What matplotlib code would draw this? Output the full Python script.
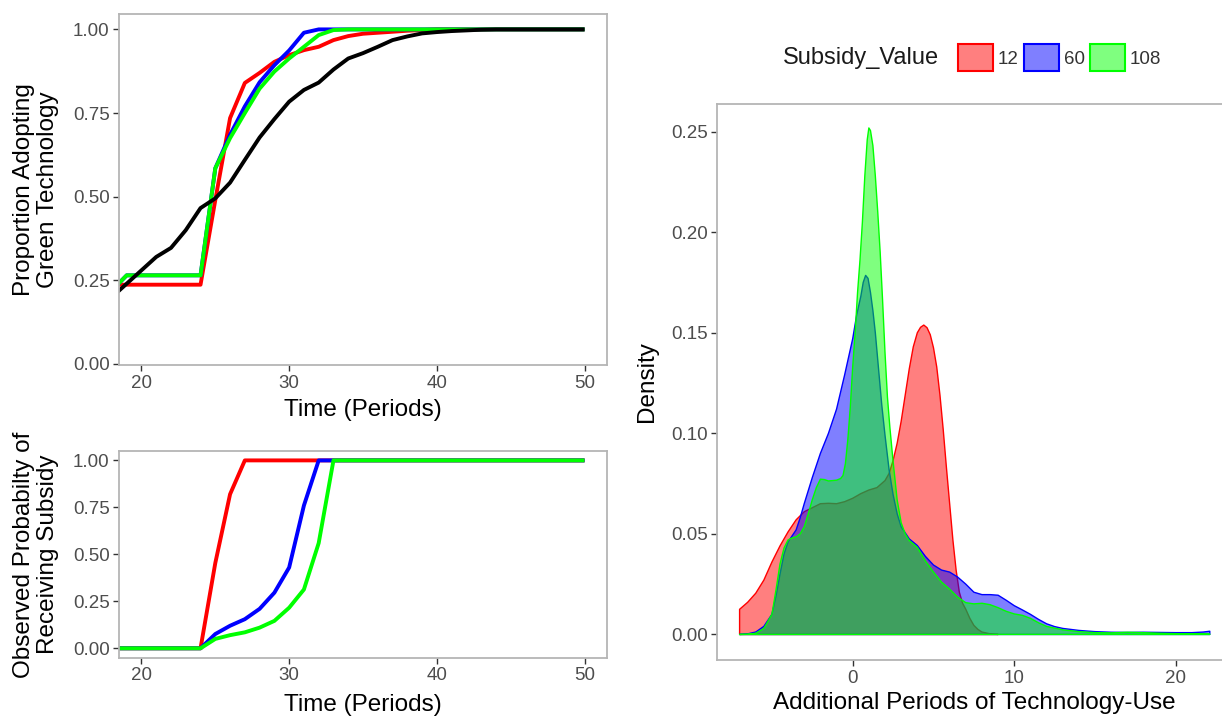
import matplotlib
matplotlib.use("Agg")
import matplotlib.pyplot as plt
import numpy as np
from matplotlib.patches import Patch
from matplotlib.ticker import FormatStrFormatter

plt.rcParams['font.family'] = ['Liberation Sans', 'DejaVu Sans']

# ---------------------------------------------------------------- data
# adoption over time (top left)
periods = [18, 19, 20, 21, 22, 23, 24, 25, 26, 27, 28, 29, 30, 31, 32, 33, 34,
           35, 36, 37, 38, 39, 40, 41, 42, 43, 44, 45, 46, 47, 48, 49, 50]
adopt_12 = [0.237, 0.237, 0.237, 0.237, 0.237, 0.237, 0.237, 0.49, 0.735, 0.84,
            0.87, 0.903, 0.923, 0.938, 0.948, 0.968, 0.98, 0.987, 0.99, 0.993,
            0.996, 0.998, 1.0, 1.0, 1.0, 1.0, 1.0, 1.0, 1.0, 1.0, 1.0, 1.0, 1.0]
adopt_60 = [0.22, 0.265, 0.265, 0.265, 0.265, 0.265, 0.265, 0.585, 0.685, 0.77,
            0.842, 0.893, 0.937, 0.99, 1.0, 1.0, 1.0, 1.0, 1.0, 1.0, 1.0, 1.0,
            1.0, 1.0, 1.0, 1.0, 1.0, 1.0, 1.0, 1.0, 1.0, 1.0, 1.0]
adopt_108 = [0.22, 0.265, 0.265, 0.265, 0.265, 0.265, 0.265, 0.585, 0.675, 0.75,
             0.823, 0.874, 0.913, 0.948, 0.983, 0.998, 1.0, 1.0, 1.0, 1.0, 1.0,
             1.0, 1.0, 1.0, 1.0, 1.0, 1.0, 1.0, 1.0, 1.0, 1.0, 1.0, 1.0]
adopt_none = [0.20, 0.24, 0.28, 0.32, 0.347, 0.40, 0.466, 0.495, 0.542, 0.61,
              0.677, 0.732, 0.784, 0.819, 0.841, 0.88, 0.913, 0.929, 0.948,
              0.968, 0.979, 0.988, 0.992, 0.995, 0.997, 0.999, 1.0, 1.0, 1.0,
              1.0, 1.0, 1.0, 1.0]

# probability of receiving subsidy (bottom left)
recv_12 = [0, 0, 0, 0, 0, 0, 0, 0.454, 0.82, 1.0, 1.0, 1.0, 1.0, 1.0, 1.0, 1.0,
           1.0, 1.0, 1.0, 1.0, 1.0, 1.0, 1.0, 1.0, 1.0, 1.0, 1.0, 1.0, 1.0, 1.0,
           1.0, 1.0, 1.0]
recv_60 = [0, 0, 0, 0, 0, 0, 0, 0.076, 0.12, 0.155, 0.21, 0.296, 0.43, 0.76, 1.0,
           1.0, 1.0, 1.0, 1.0, 1.0, 1.0, 1.0, 1.0, 1.0, 1.0, 1.0, 1.0, 1.0, 1.0,
           1.0, 1.0, 1.0, 1.0]
recv_108 = [0, 0, 0, 0, 0, 0, 0, 0.05, 0.07, 0.085, 0.11, 0.146, 0.216, 0.313,
            0.56, 1.0, 1.0, 1.0, 1.0, 1.0, 1.0, 1.0, 1.0, 1.0, 1.0, 1.0, 1.0, 1.0,
            1.0, 1.0, 1.0, 1.0, 1.0]

# densities of additional periods of use (right)
dens_x_12 = [-7.0, -6.5, -6.0, -5.5, -5.0, -4.5, -4.0, -3.5, -3.0, -2.5, -2.0,
             -1.5, -1.0, -0.5, 0.0, 0.5, 1.0, 1.5, 2.0, 2.25, 2.5, 2.75, 3.0,
             3.25, 3.5, 3.75, 4.0, 4.2, 4.4, 4.6, 4.8, 5.0, 5.2, 5.4, 5.6, 5.8,
             6.0, 6.2, 6.4, 6.6, 6.8, 7.0, 7.25, 7.5, 7.75, 8.0, 8.5, 9.0]
dens_y_12 = [0.0125, 0.016, 0.0205, 0.027, 0.036, 0.044, 0.051, 0.057, 0.061,
             0.063, 0.065, 0.0652, 0.065, 0.066, 0.0677, 0.070, 0.0718, 0.073,
             0.0765, 0.080, 0.0865, 0.095, 0.106, 0.119, 0.132, 0.143, 0.150,
             0.1527, 0.1538, 0.1525, 0.149, 0.1425, 0.133, 0.119, 0.102, 0.083,
             0.065, 0.047, 0.032, 0.021, 0.0155, 0.0125, 0.008, 0.0045, 0.0025,
             0.0012, 0.0003, 0.0]

dens_x_60 = [-7.0, -6.5, -6.0, -5.5, -5.0, -4.75, -4.5, -4.25, -4.0, -3.75, -3.5,
             -3.25, -3.0, -2.5, -2.0, -1.5, -1.0, -0.5, -0.25, 0.0, 0.25, 0.5,
             0.65, 0.8, 0.95, 1.1, 1.25, 1.4, 1.6, 1.8, 2.0, 2.25, 2.5, 2.75,
             3.0, 3.5, 4.0, 4.5, 5.0, 5.5, 6.0, 6.5, 7.0, 7.5, 8.0, 8.5, 9.0,
             9.5, 10.0, 10.5, 11.0, 11.5, 12.0, 12.5, 13.0, 14.0, 15.0, 16.0,
             17.0, 18.0, 19.0, 20.0, 21.0, 21.7, 22.1]
dens_y_60 = [0.0, 0.0003, 0.0012, 0.004, 0.010, 0.019, 0.030, 0.040, 0.046,
             0.049, 0.052, 0.058, 0.065, 0.078, 0.090, 0.100, 0.112, 0.129,
             0.138, 0.147, 0.159, 0.168, 0.175, 0.1785, 0.177, 0.170, 0.161,
             0.150, 0.132, 0.114, 0.099, 0.082, 0.0695, 0.060, 0.0535, 0.0475,
             0.0442, 0.0388, 0.0345, 0.032, 0.031, 0.0285, 0.025, 0.021, 0.0198,
             0.0198, 0.0195, 0.017, 0.0143, 0.0122, 0.0100, 0.0075, 0.0053,
             0.0039, 0.003, 0.002, 0.0014, 0.0011, 0.001, 0.0011, 0.001, 0.0009,
             0.0009, 0.0012, 0.0016]

dens_x_108 = [-7.0, -6.5, -6.0, -5.5, -5.0, -4.75, -4.5, -4.25, -4.0, -3.75,
              -3.5, -3.25, -3.0, -2.75, -2.5, -2.25, -2.0, -1.75, -1.5, -1.0,
              -0.75, -0.6, -0.45, -0.3, -0.15, 0.0, 0.15, 0.3, 0.45, 0.6, 0.75,
              0.9, 1.0, 1.1, 1.25, 1.4, 1.55, 1.7, 1.85, 2.0, 2.15, 2.3, 2.5,
              2.75, 3.0, 3.25, 3.5, 4.0, 4.5, 5.0, 5.5, 6.0, 6.5, 7.0, 7.5, 8.0,
              8.5, 9.0, 9.5, 10.0, 10.5, 11.0, 11.5, 12.0, 13.0, 14.0, 15.0,
              16.0, 17.0, 18.0, 19.0, 20.0, 21.0, 22.1]
dens_y_108 = [0.0, 0.0001, 0.0006, 0.003, 0.010, 0.022, 0.035, 0.043, 0.047,
              0.048, 0.0485, 0.050, 0.0535, 0.060, 0.067, 0.073, 0.0772, 0.077,
              0.0763, 0.0767, 0.0775, 0.079, 0.085, 0.097, 0.113, 0.133, 0.150,
              0.170, 0.186, 0.205, 0.228, 0.246, 0.2518, 0.2505, 0.243, 0.228,
              0.210, 0.190, 0.166, 0.140, 0.118, 0.103, 0.086, 0.067, 0.0555,
              0.050, 0.0467, 0.0433, 0.0365, 0.031, 0.026, 0.0225, 0.0185,
              0.0158, 0.0152, 0.0155, 0.0148, 0.0133, 0.0115, 0.0102, 0.0095,
              0.008, 0.0058, 0.0040, 0.0023, 0.0014, 0.0009, 0.0008, 0.0011,
              0.0009, 0.0006, 0.0004, 0.0003, 0.0002]

subsidy_levels = ['12', '60', '108']
colors = ['#ff0000', '#0000ff', '#00ff00']

# ---------------------------------------------------------------- style
TICK_FS = 13.5
TITLE_FS = 17.5
SPINE_COL = '#b5b5b5'


def style_axes(ax):
    for sp in ax.spines.values():
        sp.set_color(SPINE_COL)
        sp.set_linewidth(1.3)
    ax.tick_params(length=4, width=1.0, color='#333333', pad=3,
                   labelsize=TICK_FS, labelcolor='#4d4d4d')
    ax.grid(False)


fig = plt.figure(figsize=(12.22, 7.17), dpi=100)
W, H = 1222.0, 717.0


def px_axes(left, top, right, bottom):
    return fig.add_axes([left / W, 1 - bottom / H, (right - left) / W,
                         (bottom - top) / H])


# ---------------------------------------------------------------- top left
ax1 = px_axes(119.3, 14, 606.7, 365)
for ys, c in zip([adopt_12, adopt_60, adopt_108], colors):
    ax1.plot(periods, ys, color=c, lw=2.8, solid_capstyle='butt',
             solid_joinstyle='round')
ax1.plot(periods, adopt_none, color='black', lw=2.8, solid_capstyle='butt',
         solid_joinstyle='round')
ax1.set_xlim(18.5, 51.5)
ax1.set_ylim(-0.003, 1.046)
ax1.set_xticks([20, 30, 40, 50])
ax1.set_yticks([0, 0.25, 0.5, 0.75, 1.0])
ax1.yaxis.set_major_formatter(FormatStrFormatter('%.2f'))
style_axes(ax1)
ax1.set_xlabel('Time (Periods)', fontsize=TITLE_FS, va='center')
ax1.xaxis.set_label_coords(0.5, -0.128)
ax1.set_ylabel('Proportion Adopting\nGreen Technology', fontsize=TITLE_FS,
               va='center', linespacing=1.1)
ax1.yaxis.set_label_coords(-0.171, 0.5)

# ---------------------------------------------------------------- bottom left
ax2 = px_axes(119.3, 451, 606.7, 657.7)
for ys, c in zip([recv_12, recv_60, recv_108], colors):
    ax2.plot(periods, ys, color=c, lw=2.8, solid_capstyle='butt',
             solid_joinstyle='round')
ax2.set_xlim(18.5, 51.5)
ax2.set_ylim(-0.05, 1.05)
ax2.set_xticks([20, 30, 40, 50])
ax2.set_yticks([0, 0.25, 0.5, 0.75, 1.0])
ax2.yaxis.set_major_formatter(FormatStrFormatter('%.2f'))
style_axes(ax2)
ax2.set_xlabel('Time (Periods)', fontsize=TITLE_FS, va='center')
ax2.xaxis.set_label_coords(0.5, -0.229)
ax2.set_ylabel('Observed Probabilty of\nReceiving Subsidy', fontsize=TITLE_FS,
               va='center', linespacing=1.1)
ax2.yaxis.set_label_coords(-0.171, 0.5)

# ---------------------------------------------------------------- right
ax3 = px_axes(717.3, 104, 1235, 660)
dens = [(dens_x_12, dens_y_12), (dens_x_60, dens_y_60), (dens_x_108, dens_y_108)]
for (dx, dy), c in zip(dens, colors):
    dx = np.asarray(dx)
    dy = np.asarray(dy)
    px = np.r_[dx[0], dx, dx[-1]]
    py = np.r_[0.0, dy, 0.0]
    rgba = matplotlib.colors.to_rgba(c, 0.5)
    ax3.fill(px, py, facecolor=rgba, edgecolor=c, lw=1.0, joinstyle='round')
ax3.set_xlim(-8.38, 23.66)
ax3.set_ylim(-0.0127, 0.2637)
ax3.set_xticks([0, 10, 20])
ax3.set_yticks([0, 0.05, 0.10, 0.15, 0.20, 0.25])
ax3.yaxis.set_major_formatter(FormatStrFormatter('%.2f'))
style_axes(ax3)
ax3.set_xlabel('Additional Periods of Technology-Use', fontsize=TITLE_FS,
               va='center')
ax3.xaxis.set_label_coords(0.497, -0.0773)
ax3.set_ylabel('Density', fontsize=TITLE_FS, va='center')
ax3.yaxis.set_label_coords(-0.136, 0.5)

# legend: title on the left, keys in one row
leg_y = 1 - 57.7 / H
fig.text(782.7 / W, leg_y, 'Subsidy_Value', fontsize=17, va='center',
         ha='left', color='#1a1a1a')
LEG_FS = 13.5
fs_px = LEG_FS * 100 / 72
handles = [Patch(facecolor=matplotlib.colors.to_rgba(c, 0.5), edgecolor=c,
                 linewidth=1.5) for c in colors]
fig.legend(handles, subsidy_levels, ncol=3, loc='center left',
           bbox_to_anchor=(957.7 / W, leg_y), frameon=False, fontsize=LEG_FS,
           borderpad=0, borderaxespad=0, handlelength=35 / fs_px,
           handleheight=34 / fs_px, handletextpad=5 / fs_px,
           columnspacing=5 / fs_px, labelcolor='#333333')

fig.savefig('out.png', dpi=100)
